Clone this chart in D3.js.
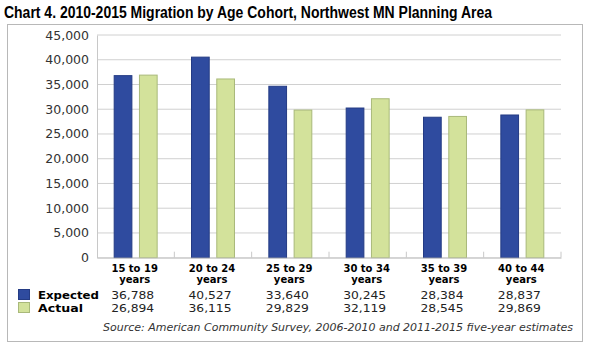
<!DOCTYPE html>
<html>
<head>
<meta charset="utf-8">
<script src="https://cdn.jsdelivr.net/npm/d3@7"></script>
<style>
  body { margin: 0; background: #fff; }
  svg { display: block; }
</style>
</head>
<body>
<script>
/*
 * Chart 4 - migration by age cohort, grouped bars with a data table below.
 */

const WIDTH = 595;
const HEIGHT = 348;
const PLOT_LEFT = 97;
const PLOT_RIGHT = 561;
const PLOT_TOP = 35;
const PLOT_BOT = 257.7;

const COLOR_EXPECTED = '#2f4b9f';
const COLOR_EXPECTED_EDGE = '#243b84';
const COLOR_ACTUAL = '#d3e29b';
const COLOR_ACTUAL_EDGE = '#a9b97a';

// data
const cohorts = ['15 to 19', '20 to 24', '25 to 29', '30 to 34', '35 to 39', '40 to 44'];
const expected = [36788, 40527, 34640, 30245, 28384, 28837];
const actual = [36894, 36115, 29829, 32119, 28545, 29869];
const series = ['Expected', 'Actual'];
// table text as printed under the chart
const tableExpected = ['36,788', '40,527', '33,640', '30,245', '28,384', '28,837'];
const tableActual = ['26,894', '36,115', '29,829', '32,119', '28,545', '29,869'];
const yTicks = [0, 5000, 10000, 15000, 20000, 25000, 30000, 35000, 40000, 45000];

const svg = d3.select('body')
  .append('svg')
    .attr('width', WIDTH)
    .attr('height', HEIGHT);

// title
svg.append('text')
    .attr('x', 4)
    .attr('y', 18)
    .attr('textLength', 488)
    .attr('lengthAdjust', 'spacingAndGlyphs')
    .style('font-family', 'Liberation Sans, Arial, sans-serif')
    .style('font-weight', 'bold')
    .style('font-size', '16px')
    .text('Chart 4. 2010-2015 Migration by Age Cohort, Northwest MN Planning Area');

// outer frame
svg.append('rect')
    .attr('x', 7.5)
    .attr('y', 24.5)
    .attr('width', 575)
    .attr('height', 317)
    .attr('fill', 'none')
    .attr('stroke', '#b8b8b8');

// scales
const xScale = d3.scaleBand()
    .domain(cohorts)
    .range([PLOT_LEFT, PLOT_RIGHT]);

const xInner = d3.scaleBand()
    .domain(series)
    .range([0, xScale.bandwidth()])
    .paddingInner(0.26)
    .paddingOuter(0.66);

const yScale = d3.scaleLinear()
    .domain([0, 45000])
    .range([PLOT_BOT, PLOT_TOP]);

// gridlines
svg.append('g')
  .selectAll('line')
  .data(yTicks)
  .enter()
  .append('line')
    .attr('x1', PLOT_LEFT)
    .attr('x2', PLOT_RIGHT)
    .attr('y1', d => yScale(d))
    .attr('y2', d => yScale(d))
    .attr('stroke', '#d0d0d0')
    .attr('stroke-width', 1);

// y axis
const yAxis = d3.axisLeft(yScale)
    .tickValues(yTicks)
    .tickSize(0)
    .tickPadding(8)
    .tickFormat(d3.format(','));

svg.append('g')
    .attr('id', 'y-axis')
    .attr('transform', `translate(${PLOT_LEFT}, 0)`)
    .call(yAxis)
    .call(g => g.select('.domain').attr('stroke', '#c8c8c8'))
    .call(g => g.selectAll('text')
      .attr('fill', '#333')
      .style('font-family', 'DejaVu Sans, Verdana, sans-serif')
      .style('font-size', '12.5px'));

// bars
const groups = svg.append('g')
  .selectAll('g')
  .data(cohorts)
  .enter()
  .append('g')
    .attr('transform', d => `translate(${xScale(d)}, 0)`);

groups.append('rect')
    .attr('x', xInner('Expected') + 0.5)
    .attr('y', (d, i) => yScale(expected[i]))
    .attr('width', xInner.bandwidth() - 1)
    .attr('height', (d, i) => PLOT_BOT - yScale(expected[i]))
    .attr('fill', COLOR_EXPECTED)
    .attr('stroke', COLOR_EXPECTED_EDGE);

groups.append('rect')
    .attr('x', xInner('Actual') + 0.5)
    .attr('y', (d, i) => yScale(actual[i]))
    .attr('width', xInner.bandwidth() - 1)
    .attr('height', (d, i) => PLOT_BOT - yScale(actual[i]))
    .attr('fill', COLOR_ACTUAL)
    .attr('stroke', COLOR_ACTUAL_EDGE);

// x axis: baseline with inner ticks between groups
const xAxis = d3.axisBottom(xScale)
    .tickSize(0)
    .tickFormat('');

svg.append('g')
    .attr('id', 'x-axis')
    .attr('transform', `translate(0, ${PLOT_BOT})`)
    .call(xAxis)
    .call(g => g.select('.domain').attr('stroke', '#c8c8c8'));

svg.append('g')
  .selectAll('line')
  .data(cohorts.slice(1).concat(['end']))
  .enter()
  .append('line')
    .attr('x1', d => d === 'end' ? PLOT_RIGHT : xScale(d))
    .attr('x2', d => d === 'end' ? PLOT_RIGHT : xScale(d))
    .attr('y1', PLOT_BOT - 6)
    .attr('y2', PLOT_BOT)
    .attr('stroke', '#c8c8c8');

// category labels, two lines
const catLabels = svg.append('g')
    .style('font-family', 'DejaVu Sans, Verdana, sans-serif')
    .style('font-weight', 'bold')
    .style('font-size', '10px')
    .attr('text-anchor', 'middle')
  .selectAll('text')
  .data(cohorts)
  .enter()
  .append('text')
    .attr('x', d => xScale(d) + xScale.bandwidth() / 2 - 1);

catLabels.append('tspan')
    .attr('y', 272)
    .text(d => d);

catLabels.append('tspan')
    .attr('x', d => xScale(d) + xScale.bandwidth() / 2 - 1)
    .attr('y', 283)
    .text('years');

// legend + data table
const rows = [
  { name: 'Expected', color: COLOR_EXPECTED, edge: COLOR_EXPECTED_EDGE, labels: tableExpected, y: 298.5, len: 61 },
  { name: 'Actual', color: COLOR_ACTUAL, edge: COLOR_ACTUAL_EDGE, labels: tableActual, y: 311.5, len: 45 }
];

rows.forEach(row => {
  svg.append('rect')
      .attr('x', 18.5)
      .attr('y', row.y - 9)
      .attr('width', 11)
      .attr('height', 10)
      .attr('fill', row.color)
      .attr('stroke', row.edge);

  svg.append('text')
      .attr('x', 38)
      .attr('y', row.y)
      .attr('textLength', row.len)
      .attr('lengthAdjust', 'spacingAndGlyphs')
      .style('font-family', 'DejaVu Sans, Verdana, sans-serif')
      .style('font-weight', 'bold')
      .style('font-size', '11px')
      .text(row.name);

  svg.append('g')
    .selectAll('text')
    .data(row.labels)
    .enter()
    .append('text')
      .attr('x', (d, i) => xScale(cohorts[i]) + xScale.bandwidth() / 2 - 3)
      .attr('y', row.y)
      .attr('text-anchor', 'middle')
      .attr('textLength', 43)
      .attr('lengthAdjust', 'spacingAndGlyphs')
      .attr('fill', '#222')
      .style('font-family', 'DejaVu Sans, Verdana, sans-serif')
      .style('font-size', '11px')
      .text(d => d);
});

// source note
svg.append('text')
    .attr('x', 573)
    .attr('y', 331)
    .attr('text-anchor', 'end')
    .attr('textLength', 470)
    .attr('lengthAdjust', 'spacingAndGlyphs')
    .attr('fill', '#333')
    .style('font-family', 'DejaVu Sans, Verdana, sans-serif')
    .style('font-style', 'italic')
    .style('font-size', '10.5px')
    .text('Source: American Community Survey, 2006-2010 and 2011-2015 five-year estimates');
</script>
</body>
</html>
